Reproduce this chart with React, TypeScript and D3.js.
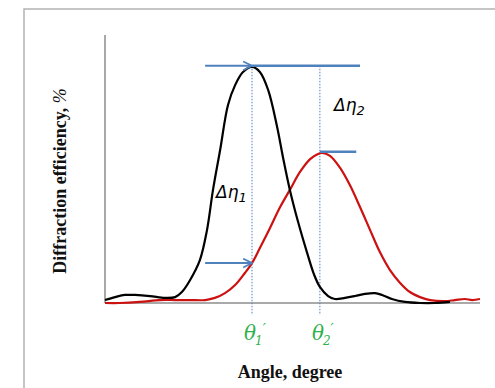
import * as d3 from "d3";
import React from "react";

// arbitrary angle units (0..100) and efficiency (0..100)
const blackAngle = [0, 2.7, 5.3, 8, 12, 16, 18.7, 20.5, 22.7, 25.3, 27.2, 28.8, 30.7, 32.8, 34.7, 36.8, 39.2, 41.3, 43.5, 45.9, 47.5, 49.3, 51.5, 53.9, 55.7, 57.3, 59.5, 61.3, 64, 66.7, 69.3, 72, 73.9, 76.5, 80, 84, 88, 92];
const blackEff = [1.1, 2.2, 3, 3, 2.6, 1.9, 2.2, 4.1, 8.6, 16, 27.2, 42.2, 57.1, 73.9, 81.3, 86.2, 88.1, 86.2, 79.5, 65.7, 54.1, 42.2, 30.2, 18.7, 10.8, 6, 2.6, 1.5, 1.9, 2.6, 3.4, 3.7, 3, 1.5, 0.4, 0, 0, 0.4];

const redAngle = [0, 4, 9.3, 14.7, 18.7, 22.7, 26.7, 29.3, 32, 34.7, 37.3, 39.2, 41.3, 44, 46.7, 49.3, 52, 54.7, 56.8, 57.9, 60, 62.7, 65.3, 68, 70.7, 73.3, 76, 78.7, 81.3, 84, 86.7, 90.7, 93.3, 96, 97.9, 100];
const redEff = [0, 0, 0.4, 1.1, 1.1, 1.1, 1.1, 1.9, 3.7, 6.7, 11.2, 14.9, 20.5, 28, 35.8, 42.2, 48.9, 53.7, 55.6, 56, 54.9, 50.4, 44, 35.8, 27.2, 19, 12.3, 7.5, 4.1, 2.2, 1.1, 0.7, 1.1, 1.5, 1.1, 1.5];

const theta1 = 39.2;
const theta2 = 57.3;
const peak1 = 88.5;
const peak2 = 56.4;
const lowLevel = 14.9;
const arrowStart = 26.7;
const topLineEnd = 68;
const shortLineEnd = 67;

const W = 495;
const H = 388;
const left = 105;
const right = 480;
const top = 35;
const bottom = 303;

const App: React.FC = () => {
  const x = d3.scaleLinear().domain([0, 100]).range([left, right]);
  const y = d3.scaleLinear().domain([0, 100]).range([bottom, top]);

  const line = d3
    .line<[number, number]>()
    .x((d) => x(d[0]))
    .y((d) => y(d[1]))
    .curve(d3.curveCatmullRom);

  const black = line(blackAngle.map((a, i) => [a, blackEff[i]]));
  const red = line(redAngle.map((a, i) => [a, redEff[i]]));

  const blue = "#4f81bd";
  const green = "#2fb14c";
  const serif = "'Liberation Serif', 'Times New Roman', serif";
  const greek = "'DejaVu Sans', sans-serif";
  const thetaFont = "'DejaVu Serif', serif";

  return (
    <svg width={W} height={H} style={{ position: "absolute", left: 0, top: 0 }}>
      <defs>
        <marker id="arr" viewBox="0 0 10 10" refX="9" refY="5" markerWidth="11" markerHeight="11" orient="auto" markerUnits="userSpaceOnUse">
          <path d="M1,1 L9,5 L1,9" fill="none" stroke={blue} strokeWidth={1.6} />
        </marker>
      </defs>
      <rect x={24} y={9} width={500} height={420} fill="white" stroke="#b3b3b3" strokeWidth={1.5} />

      {/* axes */}
      <line x1={left} y1={top} x2={left} y2={bottom} stroke="#8c8c8c" strokeWidth={1.5} />
      <line x1={left} y1={bottom} x2={right} y2={bottom} stroke="#8c8c8c" strokeWidth={1.5} />

      {/* dotted guides */}
      <line x1={x(theta1)} y1={y(peak1)} x2={x(theta1)} y2={bottom + 12} stroke={blue} strokeWidth={1} strokeDasharray="1.5,1.5" />
      <line x1={x(theta2)} y1={y(peak1)} x2={x(theta2)} y2={bottom + 12} stroke={blue} strokeWidth={1} strokeDasharray="1.5,1.5" />

      <path d={red ?? ""} fill="none" stroke="#cc1111" strokeWidth={2.2} />
      <path d={black ?? ""} fill="none" stroke="#000" strokeWidth={2.2} />

      {/* blue annotations */}
      <line x1={x(arrowStart)} y1={y(peak1)} x2={x(theta1)} y2={y(peak1)} stroke={blue} strokeWidth={2} markerEnd="url(#arr)" />
      <line x1={x(theta1)} y1={y(peak1)} x2={x(topLineEnd)} y2={y(peak1)} stroke={blue} strokeWidth={2.5} />
      <line x1={x(theta2)} y1={y(peak2)} x2={x(shortLineEnd)} y2={y(peak2)} stroke={blue} strokeWidth={2.5} />
      <line x1={x(arrowStart)} y1={y(lowLevel)} x2={x(theta1)} y2={y(lowLevel)} stroke={blue} strokeWidth={2} markerEnd="url(#arr)" />

      <text x={334} y={111} fontFamily={greek} fontStyle="italic" fontSize={17} fill="#000">
        Δη<tspan fontSize={13} dy={4}>2</tspan>
      </text>
      <text x={216} y={198} fontFamily={greek} fontStyle="italic" fontSize={17} fill="#000">
        Δη<tspan fontSize={13} dy={4}>1</tspan>
      </text>

      {/* theta labels */}
      {[theta1, theta2].map((t, i) => (
        <text key={i} x={x(t) - 8} y={340} fill={green} fontFamily={thetaFont} fontStyle="italic" fontSize={20}>
          θ
          <tspan fontSize={12} dx={-1} dy={5}>{i + 1}</tspan>
          <tspan fontSize={14} dx={0} dy={-11}>′</tspan>
        </text>
      ))}

      <text x={290} y={378} textAnchor="middle" fontFamily={serif} fontWeight="bold" fontSize={18} fill="#111">
        Angle, degree
      </text>
      <text
        transform={`translate(66,181) rotate(-90)`}
        textAnchor="middle"
        fontFamily={serif}
        fontWeight="bold"
        fontSize={18}
        fill="#111"
      >
        Diffraction efficiency, <tspan fontStyle="italic" fontWeight="normal">%</tspan>
      </text>
    </svg>
  );
};

export default App;
